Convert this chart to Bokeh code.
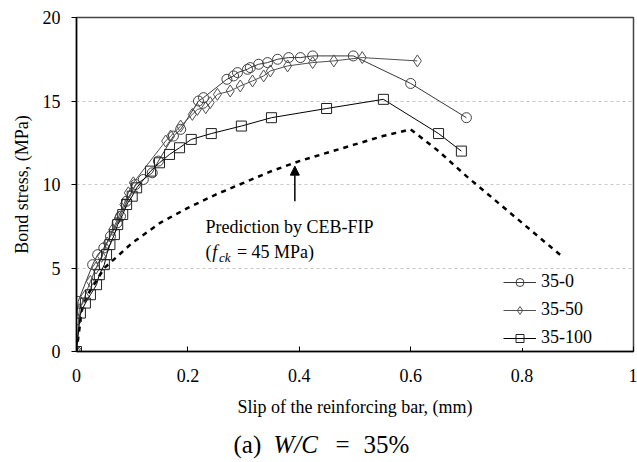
from bokeh.plotting import figure
from bokeh.layouts import column
from bokeh.models import Range1d, Legend, LegendItem, Label, Arrow, NormalHead, FixedTicker
from bokeh.core.properties import value
from bokeh.embed import file_html
from bokeh.resources import INLINE

# ---- data ----
x_35_0 = [0, 0.0, 0.003, 0.029, 0.038, 0.049, 0.061, 0.073, 0.079, 0.09, 0.106, 0.12, 0.136, 0.147,
          0.174, 0.187, 0.219, 0.228, 0.27, 0.282, 0.289, 0.307, 0.312, 0.327, 0.343, 0.361, 0.381,
          0.402, 0.424, 0.497, 0.60, 0.70]
y_35_0 = [0, 1.9, 3.0, 5.2, 5.8, 6.2, 6.9, 7.7, 8.1, 9.0, 10.0, 10.3, 10.7, 11.4,
          12.9, 13.3, 15.0, 15.2, 16.3, 16.5, 16.7, 16.9, 17.0, 17.2, 17.3, 17.5, 17.6,
          17.6, 17.7, 17.7, 16.05, 14.0]

x_35_50 = [0, 0.005, 0.015, 0.025, 0.035, 0.045, 0.055, 0.065, 0.075, 0.085, 0.093, 0.102, 0.16,
           0.169, 0.187, 0.208, 0.217, 0.232, 0.24, 0.253, 0.276, 0.294, 0.316, 0.336, 0.348, 0.379,
           0.424, 0.462, 0.513, 0.612]
y_35_50 = [0, 2.5, 3.3, 4.2, 5.0, 5.7, 6.5, 7.3, 8.0, 8.8, 9.5, 10.1, 12.6,
           12.9, 13.5, 14.2, 14.5, 14.6, 14.9, 15.4, 15.6, 15.9, 16.2, 16.5, 16.8, 17.1,
           17.3, 17.4, 17.6, 17.4]

x_35_100 = [0, 0.007, 0.016, 0.025, 0.036, 0.041, 0.05, 0.054, 0.06, 0.068, 0.074, 0.083, 0.09,
            0.1, 0.108, 0.133, 0.149, 0.167, 0.185, 0.206, 0.242, 0.296, 0.35, 0.449, 0.551, 0.65, 0.691]
y_35_100 = [0, 2.3, 2.9, 3.4, 4.0, 4.6, 5.2, 5.8, 6.4, 7.0, 7.6, 8.2, 8.8,
            9.3, 9.8, 10.8, 11.3, 11.8, 12.2, 12.7, 13.05, 13.5, 14.0, 14.55, 15.1, 13.05, 12.0]

x_ceb = [0, 0.01, 0.02, 0.05, 0.1, 0.15, 0.2, 0.25, 0.3, 0.35, 0.4, 0.45, 0.5, 0.55, 0.6,
         0.65, 0.7, 0.75, 0.8, 0.85, 0.875]
y_ceb = [0, 2.6, 3.4, 5.0, 6.5, 7.7, 8.6, 9.4, 10.1, 10.8, 11.4, 11.9, 12.4, 12.9, 13.3,
         12.0, 10.5, 9.1, 7.7, 6.3, 5.6]

x_ticks = [0, 0.2, 0.4, 0.6, 0.8, 1]
x_tick_labels = ["0", "0.2", "0.4", "0.6", "0.8", "1"]
y_ticks = [0, 5, 10, 15, 20]

caption_parts = ["(a)", "W/C", "=", "35%"]
caption_styles = ["normal", "italic", "normal", "normal"]

FONT = "Liberation Serif"

p = figure(width=637, height=428, x_range=Range1d(0, 1), y_range=Range1d(0, 20),
           output_backend="svg", toolbar_location=None,
           min_border_left=76, min_border_right=4, min_border_top=17, min_border_bottom=77)
p.background_fill_color = "white"
p.border_fill_color = "white"
p.outline_line_color = "#444444"
p.outline_line_width = 1.5

# axes
p.xaxis.ticker = FixedTicker(ticks=x_ticks)
p.xaxis.major_label_overrides = {t: l for t, l in zip(x_ticks, x_tick_labels)}
p.yaxis.ticker = FixedTicker(ticks=y_ticks)
for ax in (p.xaxis[0], p.yaxis[0]):
    ax.axis_line_color = "black"
    ax.axis_line_width = 1.5
    ax.major_tick_line_color = "black"
    ax.minor_tick_line_color = None
    ax.major_label_text_font = FONT
    ax.major_label_text_font_size = "18px"
    ax.major_label_text_color = "black"
    ax.axis_label_text_font = FONT
    ax.axis_label_text_font_size = "18px"
    ax.axis_label_text_font_style = "normal"
    ax.axis_label_text_color = "black"
p.xaxis.major_tick_in = 5
p.xaxis.major_tick_out = 0
p.yaxis.major_tick_in = 0
p.yaxis.major_tick_out = 5
p.xaxis.major_label_standoff = 17
p.yaxis.major_label_standoff = 11
p.xaxis.axis_label = "Slip of the reinforcing bar, (mm)"
p.yaxis.axis_label = "Bond stress, (MPa)"
p.xaxis.axis_label_standoff = 12
p.yaxis.axis_label_standoff = 8

p.xgrid.grid_line_color = None
p.ygrid.grid_line_color = "#c8c8c8"
p.ygrid.grid_line_dash = "3 3"
p.ygrid.grid_line_width = 1

# CEB-FIP prediction
p.line(x_ceb, y_ceb, line_color="black", line_width=2.5, line_dash="5 5")

# series
l0 = p.line(x_35_0, y_35_0, line_color="#383838", line_width=1)
s0 = p.scatter(x_35_0, y_35_0, marker="circle", size=10, line_color="#404040", fill_color=None, line_width=1)
l1 = p.line(x_35_50, y_35_50, line_color="#505050", line_width=1)
s1 = p.scatter(x_35_50, y_35_50, marker="diamond", size=12, line_color="#505050",
               fill_color=None, line_width=1)
l2 = p.line(x_35_100, y_35_100, line_color="black", line_width=1)
s2 = p.scatter(x_35_100, y_35_100, marker="square", size=10, line_color="#202020", fill_color=None, line_width=1)

legend = Legend(items=[LegendItem(label="35-0", renderers=[l0, s0]),
                       LegendItem(label="35-50", renderers=[l1, s1]),
                       LegendItem(label="35-100", renderers=[l2, s2])],
                location=(427, 3))
legend.label_text_font = FONT
legend.label_text_font_size = "18px"
legend.label_text_color = "black"
legend.glyph_width = 33
legend.glyph_height = 20
legend.label_height = 20
legend.spacing = 7
legend.padding = 6
legend.margin = 0
legend.label_standoff = 5
legend.border_line_color = None
legend.background_fill_color = "white"
legend.background_fill_alpha = 1
p.add_layout(legend)

# arrow + annotation
p.add_layout(Arrow(end=NormalHead(size=9, fill_color="black", line_color="black"),
                   x_start=0.392, y_start=9.0, x_end=0.392, y_end=11.1,
                   line_color="black", line_width=1.5))

def lab(x, y, text, size="18px", style="normal"):
    p.add_layout(Label(x=x, y=y, text=text, text_font=FONT, text_font_size=size,
                       text_font_style=style, text_color="black",
                       text_baseline="middle", text_align="left"))

lab(0.2316, 7.45, "Prediction by CEB-FIP")
lab(0.2316, 5.95, "(")
lab(0.2435, 5.95, "f", style="italic")
lab(0.2560, 5.6, "ck", size="13px", style="italic")
lab(0.2880, 5.95, "= 45 MPa)")

# caption strip below the chart (its frame is aligned with the chart's frame)
cap = figure(width=637, height=34, x_range=p.x_range, y_range=Range1d(0, 34),
             output_backend="svg", toolbar_location=None,
             x_axis_location=None, y_axis_location=None, title=None,
             min_border_left=76, min_border_right=4, min_border_top=0, min_border_bottom=0)
cap.grid.grid_line_color = None
cap.outline_line_color = None
cap.background_fill_color = "white"
cap.border_fill_color = "white"
cap_x = [0.2819, 0.3537, 0.465, 0.5153]
for cx, txt, st in zip(cap_x, caption_parts, caption_styles):
    cap.text(x=[cx], y=[18], text=[txt], text_font=value(FONT), text_font_size="25px",
             text_font_style=st, text_color="black", text_baseline="middle", text_align="left")

layout = column(p, cap, spacing=0)
open("out.html", "w").write(file_html(layout, INLINE))
